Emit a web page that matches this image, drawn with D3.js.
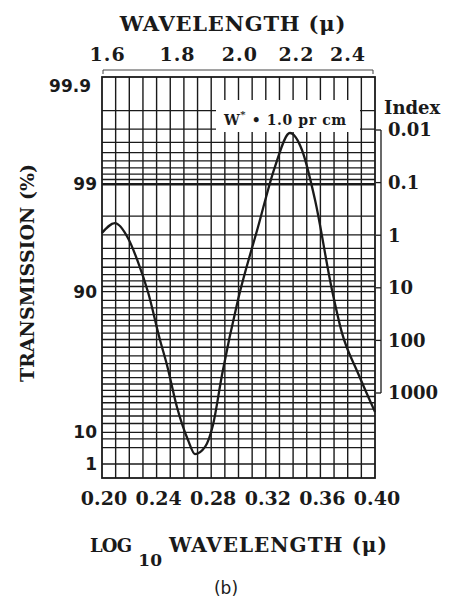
<!DOCTYPE html>
<html>
<head>
<meta charset="utf-8">
<script src="https://cdn.jsdelivr.net/npm/d3@7"></script>
<style>
  html, body { margin: 0; padding: 0; background: #fff; }
  svg { display: block; }
</style>
</head>
<body>
<div id="chart"></div>
<script>
// ---------- data ----------
const logWavelength = [0.200, 0.2095, 0.2190, 0.2264, 0.2337, 0.2425, 0.2476, 0.2549, 0.2630, 0.2681, 0.2755, 0.2813, 0.2879, 0.2996, 0.3143, 0.3267, 0.3377, 0.3465, 0.3560, 0.3685, 0.3758, 0.3875, 0.4000];
const indexValues   = [0.91, 0.59, 1.13, 3.24, 12, 98, 294, 1845, 7830, 14500, 10600, 4060, 455, 17, 0.70, 0.050, 0.0114, 0.024, 0.21, 11, 72, 417, 2290];

const bottomTicks = [0.20, 0.24, 0.28, 0.32, 0.36, 0.40];
const bottomTickLabels = ["0.20", "0.24", "0.28", "0.32", "0.36", "0.40"];
const topTicks = [1.6, 1.8, 2.0, 2.2, 2.4];
const topTickLabels = ["1.6", "1.8", "2.0", "2.2", "2.4"];
const leftTicks = [99.9, 99, 90, 10, 1];
const leftTickLabels = ["99.9", "99", "90", "10", "1"];
const indexTicks = [0.01, 0.1, 1, 10, 100, 1000];
const indexTickLabels = ["0.01", "0.1", "1", "10", "100", "1000"];
const gridTransmission = [99.8, 99.7, 99.6, 99.5, 99.4, 99.3, 99.2, 99.1, 99, 98, 97, 96, 95, 94, 93, 92, 91, 90, 88, 86, 84, 82, 80, 77, 74, 70, 65, 60, 55, 50, 45, 40, 35, 30, 25, 20, 15, 10, 7, 4, 1];
const gridLogWavelength = [0.21, 0.22, 0.23, 0.24, 0.25, 0.26, 0.27, 0.28, 0.29, 0.30, 0.31, 0.32, 0.33, 0.34, 0.35, 0.36, 0.37, 0.38, 0.39];

// ---------- layout ----------
const W = 450, H = 600;
const pLeft = 102, pRight = 375, pTop = 77, pBottom = 478;
const SERIF = "'DejaVu Serif', serif";
const SANS = "'DejaVu Sans', sans-serif";
const INK = "#1a1a1a";

const svg = d3.select("#chart").append("svg").attr("width", W).attr("height", H);

const absorb = t => -Math.log10(t / 100);
const x = d3.scaleLinear().domain([0.20, 0.40]).range([pLeft, pRight]);
const yT = d3.scaleLog().domain([absorb(99.9), absorb(1)]).range([79, 464]);
const yIdx = d3.scaleLog().domain([0.01, 1000]).range([130, 393]);

// ---------- grid ----------
const grid = svg.append("g").attr("stroke", INK).attr("fill", "none");
grid.selectAll("line.v").data(gridLogWavelength).join("line")
  .attr("x1", d => x(d)).attr("x2", d => x(d))
  .attr("y1", pTop).attr("y2", pBottom)
  .attr("stroke-width", 1.4);
grid.selectAll("line.h").data(gridTransmission).join("line")
  .attr("x1", pLeft).attr("x2", pRight)
  .attr("y1", d => yT(absorb(d))).attr("y2", d => yT(absorb(d)))
  .attr("stroke-width", d => d === 99 ? 2.6 : 1.3);
grid.append("rect")
  .attr("x", pLeft).attr("y", pTop)
  .attr("width", pRight - pLeft).attr("height", pBottom - pTop)
  .attr("stroke-width", 1.8);

// ---------- annotation box ----------
svg.append("rect").attr("x", 216).attr("y", 100).attr("width", 144).attr("height", 32).attr("fill", "#fff");
const ann = svg.append("text").attr("x", 224).attr("y", 125)
  .attr("font-family", SERIF).attr("font-weight", "bold").attr("font-size", 14)
  .attr("letter-spacing", 0.6).attr("fill", INK);
ann.append("tspan").text("W");
ann.append("tspan").attr("dy", -7).attr("font-size", 10).text("*");
ann.append("tspan").attr("dy", 7).text(" \u2022 1.0 pr cm");

// ---------- curve ----------
const pts = logWavelength.map((d, i) => [x(d), yIdx(indexValues[i])]);
svg.append("path")
  .attr("d", d3.line().curve(d3.curveMonotoneX)(pts))
  .attr("fill", "none").attr("stroke", INK).attr("stroke-width", 2.3);

// ---------- top axis ----------
svg.append("line").attr("x1", pLeft + 1).attr("x2", pRight - 2).attr("y1", 70).attr("y2", 70)
  .attr("stroke", "#444").attr("stroke-width", 1);
[pLeft + 1, pRight - 2].forEach(px => svg.append("line")
  .attr("x1", px).attr("x2", px).attr("y1", 70).attr("y2", 74)
  .attr("stroke", "#444").attr("stroke-width", 1));
svg.selectAll("text.top").data(topTicks).join("text")
  .attr("x", d => x(Math.log10(d))).attr("y", 61)
  .attr("text-anchor", "middle")
  .attr("font-family", SERIF).attr("font-weight", "bold").attr("font-size", 19)
  .attr("letter-spacing", 1).attr("fill", INK)
  .text((d, i) => topTickLabels[i]);
svg.append("text").attr("x", 233).attr("y", 31).attr("text-anchor", "middle")
  .attr("font-family", SERIF).attr("font-weight", "bold").attr("font-size", 21)
  .attr("letter-spacing", 0.8).attr("fill", INK)
  .text("WAVELENGTH (\u03bc)");

// ---------- left axis ----------
svg.selectAll("text.left").data(leftTicks).join("text")
  .attr("x", (d, i) => i === 0 ? 91 : 97).attr("y", d => Math.max(yT(absorb(d)), pTop + 9))
  .attr("dy", "0.36em").attr("text-anchor", "end")
  .attr("font-family", SANS).attr("font-weight", "bold").attr("font-size", 17).attr("fill", INK)
  .text((d, i) => leftTickLabels[i]);
svg.append("text").attr("transform", "translate(34,273) rotate(-90)")
  .attr("text-anchor", "middle")
  .attr("font-family", SERIF).attr("font-weight", "bold").attr("font-size", 19).attr("fill", INK)
  .text("TRANSMISSION (%)");

// ---------- right index axis ----------
svg.append("line").attr("x1", 381).attr("x2", 381)
  .attr("y1", yIdx(0.01)).attr("y2", yIdx(1000))
  .attr("stroke", INK).attr("stroke-width", 1.3);
svg.selectAll("line.rt").data(indexTicks).join("line")
  .attr("x1", 376).attr("x2", 381)
  .attr("y1", d => yIdx(d)).attr("y2", d => yIdx(d))
  .attr("stroke", INK).attr("stroke-width", 1.3);
svg.selectAll("text.right").data(indexTicks).join("text")
  .attr("x", 388).attr("y", d => yIdx(d)).attr("dy", "0.36em")
  .attr("font-family", SERIF).attr("font-weight", "bold").attr("font-size", 18).attr("fill", INK)
  .text((d, i) => indexTickLabels[i]);
svg.append("text").attr("x", 384).attr("y", 114)
  .attr("font-family", SERIF).attr("font-weight", "bold").attr("font-size", 18).attr("fill", INK)
  .text("Index");

// ---------- bottom axis ----------
svg.selectAll("text.bottom").data(bottomTicks).join("text")
  .attr("x", d => x(d) + 2).attr("y", 505)
  .attr("text-anchor", "middle")
  .attr("font-family", SERIF).attr("font-weight", "bold").attr("font-size", 19).attr("fill", INK)
  .text((d, i) => bottomTickLabels[i]);
const bt = svg.append("text").attr("x", 90).attr("y", 552)
  .attr("font-family", SERIF).attr("font-weight", "bold").attr("font-size", 20).attr("fill", INK);
bt.append("tspan").attr("font-size", 18).attr("letter-spacing", -0.8).text("LOG");
bt.append("tspan").attr("dy", 14).attr("dx", 7).attr("font-size", 17).attr("letter-spacing", 0).text("10");
bt.append("tspan").attr("dy", -14).attr("dx", 7).attr("letter-spacing", 1).text("WAVELENGTH (\u03bc)");

svg.append("text").attr("x", 226).attr("y", 594).attr("text-anchor", "middle")
  .attr("font-family", SANS).attr("font-size", 17).attr("fill", INK)
  .text("(b)");
</script>
</body>
</html>
